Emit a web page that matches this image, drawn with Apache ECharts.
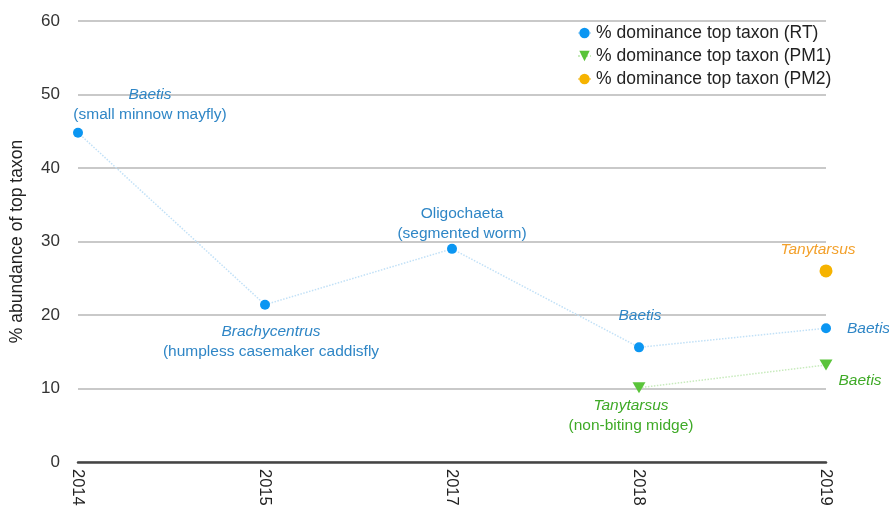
<!DOCTYPE html>
<html><head><meta charset="utf-8">
<script src="https://cdn.jsdelivr.net/npm/echarts@6/dist/echarts.min.js"></script>
<style>html,body{margin:0;padding:0;background:#fff}#c{width:889px;height:510px}</style>
</head><body><div id="c"></div>
<script>
var years = ['2014','2015','2017','2018','2019'];
var rtValues = [44.8, 21.4, 29.0, 15.6, 18.2];
var pm1Values = [null, null, null, 10.1, 13.2];
var pm2Values = [null, null, null, null, 26.0];
var rtTaxa = [['Baetis','(small minnow mayfly)'],['Brachycentrus','(humpless casemaker caddisfly'],['Oligochaeta','(segmented worm)'],['Baetis',''],['Baetis','']];
var pm1Taxa = [null,null,null,['Tanytarsus','(non-biting midge)'],['Baetis','']];
var pm2Taxa = [null,null,null,null,['Tanytarsus','']];
var yTicks = [0,10,20,30,40,50,60];
var legendNames = ['% dominance top taxon (RT)','% dominance top taxon (PM1)','% dominance top taxon (PM2)'];

var FONT = '"Liberation Sans", Arial, sans-serif';
var blueL = '#2f86c6', greenL = '#3faa27', orangeL = '#f3a12c';
function rich(color){
  return {
    i:{fontStyle:'italic', color:color, fontSize:15.5, fontFamily:FONT, lineHeight:20},
    n:{color:color, fontSize:15.5, fontFamily:FONT, lineHeight:20}
  };
}
function fmt(t, italicFirst){
  var s = italicFirst ? '{i|'+t[0]+'}' : '{n|'+t[0]+'}';
  if (t[1]) s += '\n{n|'+t[1]+'}';
  return s;
}
var rtLabelCfg = [
  {position:'top', distance:3, offset:[72,0], italic:true},
  {position:'bottom', distance:12, offset:[6,0], italic:true},
  {position:'top', distance:0, offset:[10,0], italic:false},
  {position:'top', distance:17, offset:[1,0], italic:true},
  {position:'right', distance:16, offset:[0,0], italic:true}
];
var pm1LabelCfg = [null,null,null,
  {position:'bottom', distance:2, offset:[-8,0], italic:true},
  {position:'right', distance:6, offset:[0,16], italic:true}
];
var pm2LabelCfg = [null,null,null,null,
  {position:'top', distance:5, offset:[-8,0], italic:true}
];
function build(values, taxa, cfgs, color){
  return values.map(function(v,i){
    if (v === null) return null;
    var c = cfgs[i];
    return {value:v, label:{show:true, position:c.position, distance:c.distance, offset:c.offset,
      formatter: fmt(taxa[i], c.italic), rich: rich(color), align:(c.position==='right'?'left':'center')}};
  });
}
var chart = echarts.init(document.getElementById('c'));
chart.setOption({
  animation:false,
  backgroundColor:'#fff',
  textStyle:{fontFamily:FONT},
  grid:{left:78, right:63, top:21, bottom:48, containLabel:false, outerBoundsMode:'none'},
  legend:{
    data:legendNames, orient:'vertical', left:573, top:22, itemGap:5,
    itemWidth:13, itemHeight:13, backgroundColor:'#fff', padding:[2,4,2,4],
    textStyle:{fontSize:17.5, color:'#222', fontFamily:FONT}
  },
  xAxis:{
    type:'category', data:years, boundaryGap:false,
    axisLine:{show:true, lineStyle:{color:'#444', width:2.5}},
    axisTick:{show:false},
    axisLabel:{rotate:-90, fontSize:16.5, color:'#222', margin:7, interval:0, fontFamily:FONT},
    splitLine:{show:false}
  },
  yAxis:{
    type:'value', min:0, max:60, interval:10,
    name:'% abundance of top taxon', nameLocation:'middle', nameGap:52, nameRotate:90,
    nameTextStyle:{fontSize:17.5, color:'#222', fontFamily:FONT},
    axisLine:{show:false}, axisTick:{show:false},
    axisLabel:{fontSize:17, color:'#333', margin:18, fontFamily:FONT},
    splitLine:{lineStyle:{color:'#c9c9c9', width:2}}
  },
  series:[
    {name:legendNames[0], type:'line', data:build(rtValues, rtTaxa, rtLabelCfg, blueL),
     symbol:'circle', symbolSize:10, itemStyle:{color:'#0b96f2'},
     lineStyle:{color:'#c2e1f7', width:1.5, type:'dotted'}, z:3},
    {name:legendNames[1], type:'line', data:build(pm1Values, pm1Taxa, pm1LabelCfg, greenL),
     symbol:'triangle', symbolRotate:180, symbolSize:[13,11], itemStyle:{color:'#5ac43a'},
     lineStyle:{color:'#c8ebbd', width:1.5, type:'dotted'}, connectNulls:false, z:3},
    {name:legendNames[2], type:'line', data:build(pm2Values, pm2Taxa, pm2LabelCfg, orangeL),
     symbol:'circle', symbolSize:13, itemStyle:{color:'#f6b300'},
     lineStyle:{color:'#f6d98a', width:1.5}, z:3}
  ]
});
</script></body></html>
